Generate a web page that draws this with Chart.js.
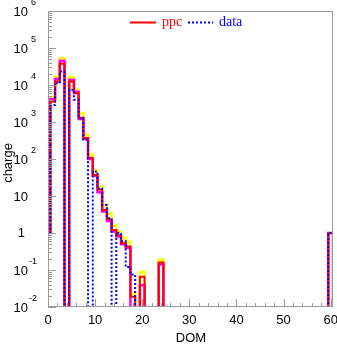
<!DOCTYPE html>
<html>
<head>
<meta charset="utf-8">
<script src="https://cdn.jsdelivr.net/npm/chart.js@4"></script>
<style>
  body { margin: 0; background: #fff; }
  #wrap { width: 337px; height: 344px; }
</style>
</head>
<body>
<div id="wrap"><canvas id="grafico" width="337" height="344"></canvas></div>
<script>
// DOM bins that have content (bins 25..59 are empty)
const domBins = [0, 1, 2, 3, 4, 5, 6, 7, 8, 9, 10, 11, 12, 13, 14, 15, 16, 17, 18, 19, 20, 21, 22, 23, 24, 60];
const ppc     = [1, 3600, 12400, 37500, 0, 12400, 6000, 1300, 370, 107, 37, 15, 4.2, 2.35, 1.2, 0.87, 0.53, 0.43, 0.019, 0, 0.066, 0, 0, 0, 0.16, 1];
const ppcHigh = [1, 4700, 17000, 53000, 0, 16400, 7400, 1740, 450, 130, 49, 18, 5.5, 3.4, 1.6, 1.08, 0.75, 0.58, 0.022, 0, 0.09, 0, 0, 0, 0.19, 1];
const ppcMid  = [1, 4200, 14500, 45000, 0, 13800, 6600, 1200, 360, 100, 35, 12.6, 3.8, 2.1, 1.1, 0.8, 0.5, 0.4, 0, 0, 0.039, 0, 0, 0, 0.14, 1];
const dados   = [1, 2900, 11200, 23200, 0, 7400, 4000, 1270, 330, 0, 46, 16, 5.7, 2.5, 0, 1.0, 0.6, 0.12, 0.075, 0, 0, 0, 0, 0, 0, 1];

const xTicks = [0, 10, 20, 30, 40, 50, 60];
const yTicks = [-2, -1, 0, 1, 2, 3, 4, 5, 6]; // powers of ten

const piso = 1e-4; // empty bins drop below the axis

// histogram outline: one point per bin left edge, stepped
function histo(bins, vals) {
    const pts = [];
    for (let i = 0; i < bins.length; i++) {
        pts.push({ x: bins[i] - 0.5, y: vals[i] > 0 ? vals[i] : piso });
        if (i === bins.length - 1 || bins[i + 1] !== bins[i] + 1) {
            pts.push({ x: bins[i] + 0.5, y: piso });
        }
    }
    return pts;
}

function serie(vals, cor, largura, ordem, tracejado) {
    return {
        data: histo(domBins, vals),
        borderColor: cor,
        borderWidth: largura,
        borderDash: tracejado || [],
        stepped: 'before',
        pointRadius: 0,
        tension: 0,
        fill: false,
        clip: 0,
        order: ordem
    };
}

const eixos = {
    id: 'eixos',
    afterDraw(chart) {
        const ctx = chart.ctx;
        const a = chart.chartArea;
        const xs = chart.scales.x, ys = chart.scales.y;
        ctx.save();
        ctx.strokeStyle = '#9a9a9a';
        ctx.lineWidth = 1;
        ctx.strokeRect(a.left + 0.5, a.top + 0.5, a.right - a.left - 1, a.bottom - a.top - 1);

        // y ticks
        ctx.beginPath();
        yTicks.forEach(p => {
            const y = Math.round(ys.getPixelForValue(Math.pow(10, p))) + 0.5;
            ctx.moveTo(a.left, y); ctx.lineTo(a.left + 8, y);
            if (p < 6) {
                for (let k = 2; k < 10; k++) {
                    const ym = Math.round(ys.getPixelForValue(k * Math.pow(10, p))) + 0.5;
                    ctx.moveTo(a.left, ym); ctx.lineTo(a.left + 4, ym);
                }
            }
        });
        // x ticks
        for (let v = 0; v <= 60; v += 2) {
            const x = Math.round(xs.getPixelForValue(v)) + 0.5;
            const len = xTicks.includes(v) ? 8 : 4;
            ctx.moveTo(x, a.bottom); ctx.lineTo(x, a.bottom - len);
        }
        ctx.stroke();

        // labels
        ctx.fillStyle = '#000';
        ctx.textBaseline = 'middle';
        ctx.font = '13px "Liberation Sans", Arial, sans-serif';
        ctx.textAlign = 'center';
        xTicks.forEach(v => ctx.fillText(String(v), xs.getPixelForValue(v), 320));
        ctx.fillText('DOM', 191, 338);

        yTicks.forEach(p => {
            const y = ys.getPixelForValue(Math.pow(10, p));
            ctx.font = '13px "Liberation Sans", Arial, sans-serif';
            ctx.textAlign = 'right';
            if (p === 0) { ctx.fillText('1', 25, y); return; }
            ctx.fillText('10', 28, y + 1);
            if (p === 1) return;
            ctx.font = '9px "Liberation Sans", Arial, sans-serif';
            ctx.textAlign = 'left';
            ctx.fillText(String(p), p < 0 ? 29 : 31, y - 8);
        });

        ctx.save();
        ctx.translate(8, 163);
        ctx.rotate(-Math.PI / 2);
        ctx.textAlign = 'center';
        ctx.font = '13px "Liberation Sans", Arial, sans-serif';
        ctx.fillText('charge', 0, 0);
        ctx.restore();

        // legend
        ctx.lineWidth = 2;
        ctx.strokeStyle = '#ff0000';
        ctx.beginPath(); ctx.moveTo(130, 22.5); ctx.lineTo(156, 22.5); ctx.stroke();
        ctx.strokeStyle = '#0000ff';
        ctx.setLineDash([2, 2]);
        ctx.beginPath(); ctx.moveTo(188, 22.5); ctx.lineTo(213, 22.5); ctx.stroke();
        ctx.setLineDash([]);
        ctx.font = '14px "Liberation Serif", "Times New Roman", serif';
        ctx.textAlign = 'left';
        ctx.textBaseline = 'alphabetic';
        ctx.fillStyle = '#ff0000';
        ctx.fillText('ppc', 162, 26);
        ctx.fillStyle = '#0000ff';
        ctx.fillText('data', 219, 26);
        ctx.restore();
    }
};

// lower order is drawn on top: data over ppc over the bands
const grafico = new Chart(document.getElementById('grafico').getContext('2d'), {
    type: 'line',
    data: {
        datasets: [
            serie(ppcHigh, '#ffff00', 2.5, 4),
            serie(ppcMid, '#ff00ff', 2.5, 3),
            serie(ppc, '#ff0000', 2, 2),
            serie(dados, '#0000ff', 2, 1, [2, 2])
        ]
    },
    options: {
        responsive: false,
        animation: false,
        layout: { padding: { left: 48, right: 4, top: 11, bottom: 37 } },
        plugins: { legend: { display: false }, tooltip: { enabled: false } },
        scales: {
            x: { type: 'linear', min: 0, max: 60.5, display: false },
            y: { type: 'logarithmic', min: 0.01, max: 1e6, display: false }
        }
    },
    plugins: [eixos]
});
</script>
</body>
</html>
